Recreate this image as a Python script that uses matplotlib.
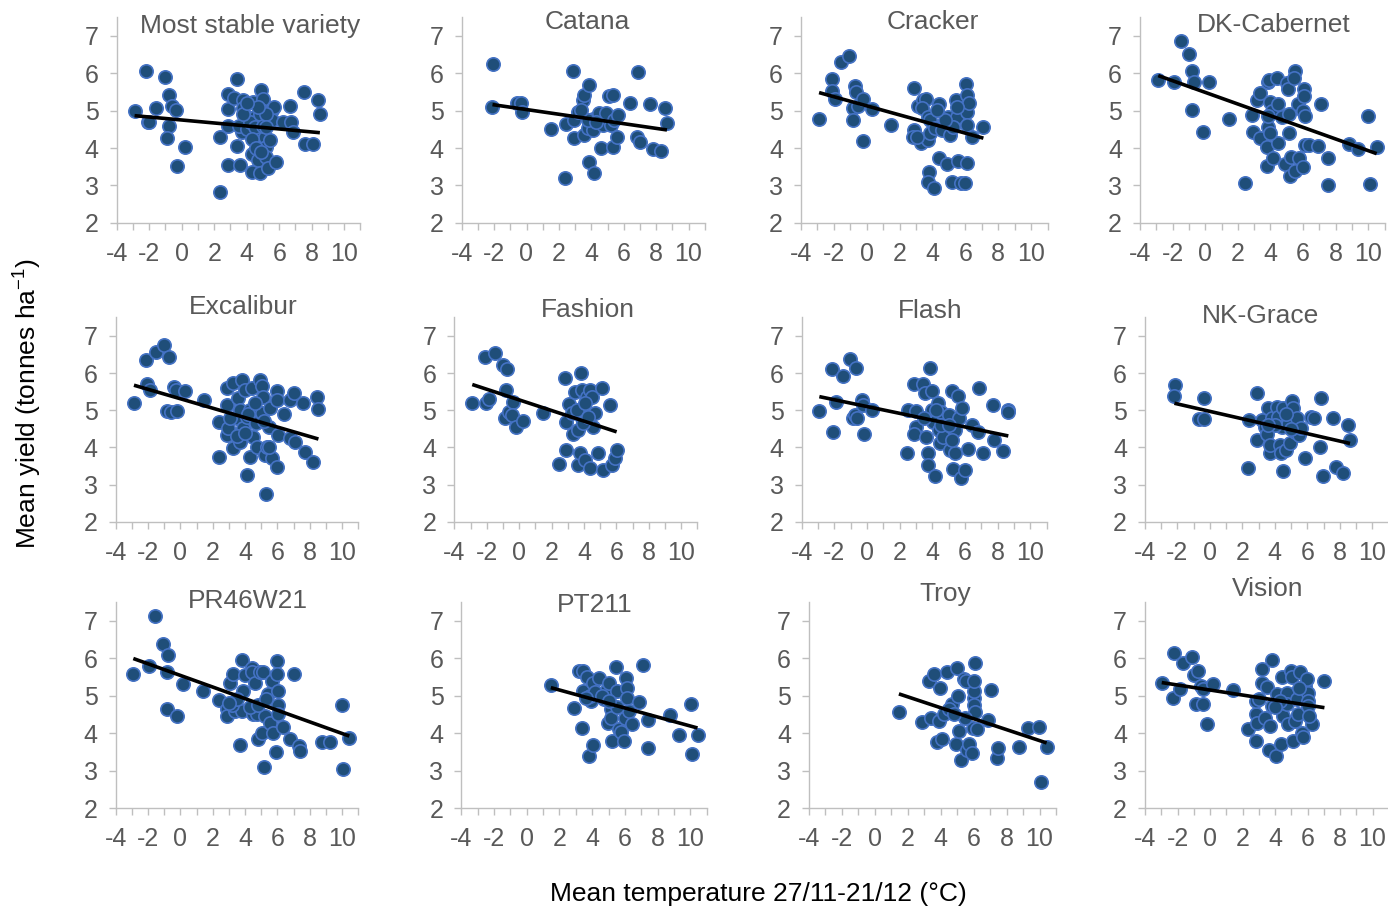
import matplotlib
matplotlib.use('Agg')
import matplotlib.pyplot as plt
from matplotlib.ticker import MultipleLocator
import numpy as np

plt.rcParams['font.family'] = ['Liberation Sans', 'DejaVu Sans']
plt.rcParams['mathtext.fontset'] = 'custom'
plt.rcParams['mathtext.rm'] = 'Liberation Sans'
plt.rcParams['mathtext.it'] = 'Liberation Sans:italic'
plt.rcParams['axes.unicode_minus'] = False

# ---------------- data ----------------
varieties = ["Most stable variety", "Catana", "Cracker", "DK-Cabernet",
             "Excalibur", "Fashion", "Flash", "NK-Grace",
             "PR46W21", "PT211", "Troy", "Vision"]

pts_stable = [(-2.9,5.0),(-2.2,6.05),(-2.1,4.7),(-2.0,4.7),(-1.6,5.08),(-1.0,5.9),(-0.8,5.42),(-0.8,4.6),(-0.9,4.28),(-0.6,5.12),(-0.35,5.02),(-0.3,3.53),(0.2,4.04),(2.35,4.3),(2.35,2.81),(2.85,5.44),(2.85,5.04),(2.85,4.6),(2.85,3.55),(3.4,5.85),(3.2,5.33),(3.4,4.06),(3.6,3.54),(3.7,4.44),(3.8,5.29),(3.75,5.08),(4.0,4.84),(4.3,3.84),(4.35,3.37),(4.4,5.24),(4.5,4.84),(4.6,4.48),(4.7,3.68),(4.8,3.32),(4.9,5.55),(5.0,5.3),(4.9,5.02),(5.1,4.3),(5.2,4.04),(5.2,3.77),(5.3,3.46),(5.45,4.21),(5.55,5.02),(5.55,4.75),(5.65,5.11),(5.8,3.62),(6.25,4.7),(6.65,5.13),(6.7,4.7),(6.85,4.44),(7.55,5.51),(7.6,4.11),(8.1,4.11),(8.4,5.29),(8.5,4.91),(3.5,4.6),(4.0,4.5),(4.2,4.7),(4.5,4.55),(4.8,4.9),(5.0,4.6),(4.3,4.25),(3.8,4.9),(5.2,4.9),(4.7,5.1),(4.0,5.2),(4.6,4.0),(4.9,3.9),(5.2,4.55)]
pts_catana = [(-2.05,6.25),(-2.1,5.1),(-0.58,5.2),(-0.34,5.21),(-0.28,4.97),(1.5,4.5),(2.38,3.21),(2.44,4.64),(2.89,6.07),(2.95,4.26),(2.95,4.75),(3.16,4.97),(3.47,5.29),(3.53,5.42),(3.88,5.69),(3.57,4.35),(3.78,4.53),(3.84,3.63),(4.15,3.34),(4.09,4.79),(4.09,4.48),(3.78,4.75),(4.5,4.93),(4.6,3.99),(4.7,4.62),(4.91,4.93),(5.12,5.38),(5.32,5.42),(5.32,4.04),(5.22,4.62),(5.42,4.75),(5.59,4.3),(5.63,4.88),(6.41,5.21),(6.9,6.04),(6.82,4.3),(7.03,4.17),(7.65,5.17),(7.79,3.97),(8.3,3.93),(8.57,5.06),(8.67,4.66),(3.37,5.02),(4.3,4.7)]
pts_cracker = [(-2.9,4.78),(-2.13,5.85),(-2.13,5.53),(-1.93,5.31),(-1.59,6.31),(-1.06,6.47),(-0.71,5.66),(-0.65,5.51),(-0.86,5.06),(-0.82,4.75),(-0.51,5.13),(-0.25,5.31),(-0.21,4.19),(0.3,5.04),(1.46,4.62),(2.88,5.6),(2.88,4.48),(2.84,4.3),(3.14,5.13),(3.28,4.13),(3.44,5.29),(3.6,5.31),(3.34,5.06),(3.75,4.84),(3.75,4.21),(3.85,4.39),(3.81,3.37),(3.75,3.1),(4.11,2.92),(3.85,4.75),(4.15,4.53),(4.42,5.17),(4.42,3.72),(4.56,4.48),(4.86,3.57),(4.97,4.84),(5.07,4.35),(5.17,3.1),(5.43,5.29),(5.47,4.84),(5.57,3.65),(5.74,3.05),(5.98,3.05),(6.04,5.71),(6.08,5.42),(6.08,4.97),(6.12,4.62),(6.12,3.59),(6.24,5.2),(6.39,4.3),(7.1,4.57),(5.27,4.57),(4.76,4.75),(4.25,5.02),(5.47,5.11),(3.04,4.3)]
pts_dkcab = [(-2.88,5.81),(-1.89,5.76),(-1.5,6.87),(-0.97,6.52),(-0.83,6.07),(-0.67,5.76),(-0.83,5.02),(-0.16,4.42),(0.25,5.76),(1.46,4.78),(2.44,3.07),(2.85,4.89),(2.95,4.44),(3.16,5.29),(3.36,5.47),(3.36,4.26),(3.77,3.53),(3.77,4.02),(3.83,4.55),(3.87,5.76),(3.93,5.83),(3.98,5.24),(4.08,4.98),(4.18,3.72),(4.38,5.87),(4.45,5.19),(4.49,4.13),(3.98,4.39),(3.87,4.87),(4.69,4.83),(4.9,3.56),(5.0,5.74),(5.1,5.57),(5.2,3.25),(5.14,4.39),(5.14,4.92),(5.26,3.76),(5.51,3.39),(5.51,6.07),(5.47,5.87),(5.71,5.19),(5.78,3.72),(6.02,4.98),(6.02,3.49),(6.08,5.57),(6.12,4.85),(6.08,5.39),(6.12,4.09),(6.37,4.09),(6.9,4.05),(7.1,5.18),(7.51,3.0),(7.51,3.74),(8.84,4.11),(9.35,3.98),(9.97,4.86),(10.11,3.03),(10.52,4.03)]
pts_excalibur = [(-2.87,5.19),(-2.12,6.34),(-2.08,5.7),(-1.88,5.55),(-1.5,6.58),(-1.0,6.76),(-0.7,6.43),(-0.8,4.99),(-0.58,4.96),(-0.19,4.99),(-0.37,5.62),(-0.27,5.55),(0.29,5.52),(1.46,5.28),(2.39,3.75),(2.39,4.69),(2.87,5.61),(2.87,5.14),(2.87,4.33),(2.97,4.51),(3.28,3.99),(3.28,5.73),(3.48,4.78),(3.59,5.32),(3.69,5.01),(3.69,4.14),(3.79,5.82),(3.86,4.51),(4.0,5.55),(4.1,4.83),(4.1,3.27),(4.31,3.75),(4.41,5.59),(4.31,5.01),(4.52,4.29),(4.72,4.02),(4.68,4.66),(4.93,5.82),(5.03,5.64),(5.09,5.37),(5.03,4.92),(5.24,3.8),(5.3,2.75),(5.38,4.02),(5.55,5.05),(5.51,4.56),(5.65,3.71),(5.96,3.48),(6.0,5.52),(5.96,5.28),(6.06,4.33),(6.43,4.9),(6.78,5.28),(6.78,4.24),(7.03,5.46),(7.09,4.15),(7.61,5.19),(7.71,3.88),(8.23,3.61),(8.47,5.35),(8.54,5.03),(3.5,4.3),(4.2,4.9),(4.6,5.2),(5.2,4.7),(3.1,4.8),(4.0,4.4),(5.5,4.0)]
pts_fashion = [(-2.89,5.19),(-2.11,6.44),(-2.05,5.19),(-1.84,5.29),(-1.49,6.55),(-0.98,6.22),(-0.73,6.1),(-0.81,5.55),(-0.87,4.78),(-0.6,4.96),(-0.36,5.23),(-0.46,4.87),(-0.19,4.56),(0.26,4.72),(1.45,4.92),(2.48,3.55),(2.83,5.88),(2.87,3.93),(2.87,4.69),(3.1,5.17),(3.24,4.92),(3.35,4.36),(3.45,5.5),(3.65,4.47),(3.65,3.53),(3.76,3.84),(3.82,5.99),(3.86,5.55),(3.8,5.01),(3.86,4.78),(4.07,3.66),(4.17,5.37),(4.37,5.55),(4.37,3.44),(4.48,5.37),(4.54,4.56),(4.68,4.92),(4.89,3.84),(5.09,5.59),(5.2,3.39),(5.61,5.14),(5.71,3.53),(5.92,3.71),(6.02,3.93),(3.55,5.01),(4.07,5.19),(3.96,4.65),(4.27,4.83)]
pts_flash = [(-2.92,4.98),(-2.12,6.11),(-2.1,4.42),(-1.9,5.21),(-1.49,5.92),(-1.04,6.38),(-0.67,6.15),(-0.84,4.78),(-0.73,4.87),(-0.59,4.8),(-0.33,5.27),(-0.27,5.14),(-0.18,4.37),(0.29,5.01),(2.47,3.84),(2.49,5.01),(2.88,5.7),(3.0,4.99),(3.0,4.56),(2.88,4.37),(3.45,5.7),(3.55,5.46),(3.61,4.29),(3.76,3.84),(3.76,3.53),(3.86,6.13),(3.96,5.51),(3.96,5.01),(4.06,4.69),(4.16,3.22),(4.37,5.19),(4.43,4.47),(4.47,4.11),(4.51,4.96),(4.63,4.29),(5.04,4.87),(5.08,3.93),(5.18,5.51),(5.29,3.42),(5.39,3.84),(5.39,4.47),(5.59,5.39),(5.65,4.78),(5.8,5.05),(5.73,3.17),(6.0,3.4),(6.2,3.97),(6.41,4.6),(6.82,4.42),(6.88,5.59),(7.12,3.84),(7.69,5.14),(7.78,4.2),(8.35,3.9),(8.65,5.01),(8.6,4.95),(4.5,4.6),(5.0,4.6),(5.2,4.2),(4.2,5.0),(3.5,4.8)]
pts_nkgrace = [(-2.15,5.68),(-2.19,5.38),(-0.67,4.76),(-0.34,4.76),(-0.34,5.34),(2.37,3.45),(2.41,4.73),(2.88,5.47),(2.88,4.2),(3.19,4.73),(3.39,4.55),(3.49,4.37),(3.56,5.06),(3.7,3.84),(3.7,4.06),(3.8,4.79),(4.11,5.09),(4.21,4.82),(4.32,4.06),(4.38,3.84),(4.42,4.55),(4.52,3.36),(4.52,5.06),(4.67,3.93),(4.83,4.64),(4.93,4.11),(5.03,5.25),(5.14,5.06),(5.24,4.42),(5.34,4.79),(5.51,4.33),(5.61,4.51),(5.86,3.72),(6.23,4.82),(6.43,4.79),(6.78,4.02),(6.84,5.34),(6.99,3.24),(7.6,4.79),(7.74,3.48),(8.22,3.3),(8.53,4.6),(8.63,4.2),(4.0,4.6),(4.7,4.9),(5.0,4.5),(3.6,4.6)]
pts_pr46w21 = [(-2.91,5.57),(-1.94,5.79),(-1.57,7.12),(-1.05,6.39),(-0.74,6.08),(-0.85,5.63),(-0.85,4.63),(-0.23,4.46),(0.19,5.3),(1.42,5.13),(2.41,4.88),(2.87,4.63),(2.87,4.46),(3.07,5.35),(3.28,5.57),(3.38,4.59),(3.69,3.67),(3.79,5.95),(3.79,4.59),(3.9,5.13),(4.0,5.54),(4.41,5.75),(4.41,5.63),(4.52,4.5),(4.62,5.33),(4.72,4.5),(4.82,3.83),(4.93,5.62),(5.03,4.01),(5.09,5.63),(5.2,3.1),(5.24,4.46),(5.44,5.04),(5.55,4.28),(5.65,5.38),(5.75,4.01),(5.92,3.5),(5.96,5.93),(6.0,5.57),(6.06,5.13),(6.06,4.75),(6.06,4.5),(6.37,4.16),(6.78,3.85),(7.03,5.57),(7.36,3.65),(7.4,3.52),(8.74,3.76),(9.26,3.77),(9.98,4.75),(10.04,3.05),(10.45,3.88),(3.2,4.75),(3.5,4.9),(4.3,4.7),(4.8,4.75),(5.3,4.9),(3.0,4.8)]
pts_pt211 = [(1.47,5.28),(2.9,4.66),(3.2,5.66),(3.41,5.66),(3.35,4.13),(3.41,5.13),(3.67,5.5),(3.82,3.4),(3.92,4.86),(3.88,4.99),(4.08,3.67),(4.08,5.33),(4.43,5.46),(4.73,4.91),(4.84,5.13),(4.94,4.26),(5.04,5.33),(5.14,4.63),(5.14,4.41),(5.24,3.79),(5.45,5.77),(5.51,5.13),(5.65,4.1),(5.76,4.04),(5.96,3.8),(6.0,4.41),(6.06,5.48),(6.12,5.21),(6.12,4.95),(6.27,4.59),(6.41,4.23),(6.88,4.84),(7.12,5.82),(7.43,4.35),(7.43,3.61),(8.78,4.48),(9.29,3.95),(10.04,4.79),(10.1,3.43),(10.45,3.96),(4.2,5.1),(4.6,5.0),(5.5,4.7),(5.0,4.85),(3.6,4.95)]
pts_troy = [(1.46,4.56),(2.87,4.29),(3.28,5.39),(3.38,4.41),(3.58,5.57),(3.79,3.76),(3.95,5.21),(3.89,4.33),(4.09,3.85),(4.19,4.5),(4.39,5.62),(4.7,4.79),(4.9,3.7),(5.0,5.75),(5.04,4.99),(5.1,4.05),(5.24,3.29),(5.4,5.44),(5.51,5.38),(5.61,3.56),(5.71,3.72),(5.91,3.47),(5.97,4.14),(6.01,4.95),(6.05,5.13),(6.05,5.39),(6.11,5.86),(6.05,4.74),(6.11,4.55),(6.21,4.1),(6.86,4.34),(7.06,5.14),(7.43,3.34),(7.47,3.61),(8.74,3.64),(9.31,4.14),(9.96,4.17),(10.1,2.7),(10.43,3.63),(4.5,4.65),(5.5,4.4),(4.8,4.5)]
pts_vision = [(-2.97,5.35),(-2.19,6.15),(-2.26,4.95),(-1.85,5.17),(-1.64,5.86),(-1.09,6.04),(-0.96,5.55),(-0.72,5.66),(-0.86,4.79),(-0.41,4.77),(-0.55,5.26),(-0.41,5.17),(-0.21,4.23),(0.21,5.32),(1.44,5.15),(2.36,4.1),(2.81,3.79),(2.81,4.5),(2.87,4.28),(2.81,4.85),(3.18,5.7),(3.18,5.35),(3.38,4.41),(3.49,5.22),(3.63,3.54),(3.69,4.19),(3.79,5.95),(3.84,4.72),(4.04,3.38),(4.1,5.04),(4.37,3.7),(4.41,5.49),(4.51,4.46),(4.72,5.08),(4.72,4.77),(4.82,4.23),(4.98,5.67),(5.07,5.51),(5.13,3.79),(5.23,4.33),(5.33,4.91),(5.44,4.5),(5.54,5.62),(5.64,4.01),(5.74,3.89),(5.85,5.26),(5.95,5.44),(6.01,5.08),(6.01,4.86),(6.01,4.72),(6.26,4.23),(7.04,5.39),(3.0,4.9),(4.3,4.85),(5.5,5.2),(4.0,4.7),(6.1,4.45)]

all_points = [pts_stable, pts_catana, pts_cracker, pts_dkcab,
              pts_excalibur, pts_fashion, pts_flash, pts_nkgrace,
              pts_pr46w21, pts_pt211, pts_troy, pts_vision]

# linear trend lines: yield = intercept + slope * temperature
trend_intercept = [4.75, 5.03, 5.13, 5.49, 5.31, 5.28, 5.10, 4.97, 5.54, 5.39, 5.26, 5.15]
trend_slope = [-0.040, -0.063, -0.122, -0.156, -0.127, -0.143, -0.0915, -0.100,
               -0.155, -0.120, -0.146, -0.067]

x_ticks = [-4, -2, 0, 2, 4, 6, 8, 10]
y_ticks = [2, 3, 4, 5, 6, 7]
x_label = "Mean temperature 27/11-21/12 (\u00b0C)"
y_label = "Mean yield (tonnes ha$^{-1}$)"

# ---------------- layout (pixels) ----------------
W, H = 1388, 909
col_px = [(116.7, 360.5), (461.7, 704.7), (801.0, 1047.5), (1140.0, 1384.5),
          (115.7, 358.2), (454.3, 697.3), (801.7, 1046.7), (1145.0, 1388.5),
          (115.7, 358.2), (461.5, 706.5), (809.0, 1056.0), (1145.0, 1388.8)]
row_px = [(222.7, 17.3), (521.7, 317.4), (808.0, 602.0)]
title_px = [(250, 33.3), (587.5, 29.3), (932.7, 29.3), (1273.3, 31.7),
            (243.3, 314), (587.8, 317.3), (930, 318.3), (1260.8, 322.7),
            (247.5, 608), (595, 612), (945.7, 600.7), (1267.5, 596)]

TEXT = '#595959'
AXIS = '#bfbfbf'
FILL = '#1F4E79'
EDGE = '#4472C4'

fig = plt.figure(figsize=(W / 100, H / 100), dpi=100)

for i, name in enumerate(varieties):
    x0, x1 = col_px[i]
    yb, yt = row_px[i // 4]
    ax = fig.add_axes([x0 / W, 1 - yb / H, (x1 - x0) / W, (yb - yt) / H])
    ax.set_xlim(-4, 11)
    ax.set_ylim(2, 7.5)
    ax.patch.set_alpha(0)
    for s in ('top', 'right'):
        ax.spines[s].set_visible(False)
    for s in ('left', 'bottom'):
        ax.spines[s].set_color(AXIS)
        ax.spines[s].set_linewidth(1.0)
    ax.set_xticks(x_ticks)
    ax.xaxis.set_minor_locator(MultipleLocator(1))
    ax.set_yticks(y_ticks)
    ax.tick_params(axis='both', which='both', direction='out', length=5,
                   width=1.0, color=AXIS, labelcolor=TEXT, labelsize=18, pad=9)
    ax.tick_params(axis='y', pad=8)

    xs = np.array([p[0] for p in all_points[i]])
    ys = np.array([p[1] for p in all_points[i]])
    ax.scatter(xs, ys, s=92, facecolor=FILL, edgecolor=EDGE, linewidth=1.2,
               zorder=2, clip_on=False)
    xl = np.array([xs.min(), xs.max()])
    ax.plot(xl, trend_intercept[i] + trend_slope[i] * xl, color='black',
            lw=2.6, solid_capstyle='butt', zorder=3)

    tx, ty = title_px[i]
    fig.text(tx / W, 1 - ty / H, name, ha='center', va='baseline',
             fontsize=19, color=TEXT)

fig.text(28 / W, 1 - 404 / H, y_label, rotation=90, ha='center', va='center',
         fontsize=19, color='black')
fig.text(758 / W, 1 - 901 / H, x_label, ha='center', va='baseline',
         fontsize=19, color='black')

fig.savefig('out.png', dpi=100)
